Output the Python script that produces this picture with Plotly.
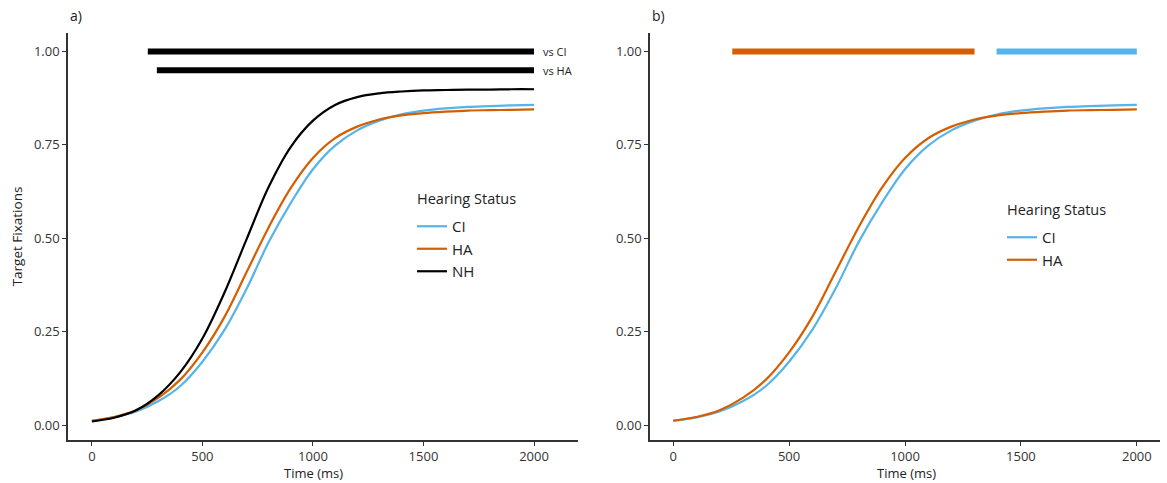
import plotly.graph_objects as go

time_ms = [0, 100, 200, 300, 400, 500, 600, 700, 800, 900, 1000,
           1100, 1200, 1300, 1400, 1500, 1600, 1700, 1800, 1900, 2000]
nh = [0.010, 0.020, 0.040, 0.080, 0.142, 0.232, 0.355, 0.498, 0.638, 0.745, 0.815,
      0.857, 0.878, 0.888, 0.893, 0.896, 0.897, 0.898, 0.898, 0.899, 0.899]
ha = [0.012, 0.022, 0.040, 0.073, 0.122, 0.195, 0.290, 0.410, 0.530, 0.635, 0.715,
      0.768, 0.799, 0.818, 0.829, 0.835, 0.839, 0.842, 0.843, 0.844, 0.845]
ci = [0.012, 0.021, 0.037, 0.064, 0.105, 0.170, 0.255, 0.365, 0.490, 0.595, 0.685,
      0.748, 0.789, 0.815, 0.832, 0.842, 0.848, 0.852, 0.854, 0.856, 0.857]

# significance bars
sig_a_labels = ["vs CI", "vs HA"]
sig_a_start = [253, 294]
sig_a_end = [2000, 2000]
sig_a_y = [1.00, 0.95]
sig_b_start = [255, 1395]
sig_b_end = [1300, 2000]
sig_b_y = [1.00, 1.00]

BLUE = "#56B4E9"
ORANGE = "#D55E00"
BLACK = "#000000"
FONT = "Open Sans"
TXT = "#222"

fig = go.Figure()

# panel a
for name, ys, col in [("CI", ci, BLUE), ("HA", ha, ORANGE), ("NH", nh, BLACK)]:
    fig.add_trace(go.Scatter(x=time_ms, y=ys, mode="lines", name=name,
                             line=dict(color=col, width=2.2, shape="spline", smoothing=1.0),
                             xaxis="x", yaxis="y", legend="legend"))
for s, e, y in zip(sig_a_start, sig_a_end, sig_a_y):
    fig.add_trace(go.Scatter(x=[s, e], y=[y, y], mode="lines", showlegend=False,
                             line=dict(color=BLACK, width=6), xaxis="x", yaxis="y"))
for lab, e, y in zip(sig_a_labels, sig_a_end, sig_a_y):
    fig.add_annotation(x=e, y=y, xref="x", yref="y", text=lab, showarrow=False,
                       xanchor="left", xshift=7, font=dict(family=FONT, size=11, color=TXT))

# panel b
for name, ys, col in [("CI", ci, BLUE), ("HA", ha, ORANGE)]:
    fig.add_trace(go.Scatter(x=time_ms, y=ys, mode="lines", name=name,
                             line=dict(color=col, width=2.2, shape="spline", smoothing=1.0),
                             xaxis="x2", yaxis="y2", legend="legend2"))
for s, e, y, col in zip(sig_b_start, sig_b_end, sig_b_y, [ORANGE, BLUE]):
    fig.add_trace(go.Scatter(x=[s, e], y=[y, y], mode="lines", showlegend=False,
                             line=dict(color=col, width=6), xaxis="x2", yaxis="y2"))

W, H = 1167, 483
ydom = [1 - 440 / H, 1 - 33 / H]
axis_common = dict(showgrid=False, zeroline=False, showline=True, linecolor="#333",
                   linewidth=1.5, ticks="outside", ticklen=4, tickcolor="#333", tickwidth=1.2,
                   tickfont=dict(family=FONT, size=13, color="#333"))
title_font = dict(family=FONT, size=13, color=TXT)
legend_common = dict(xanchor="left", yanchor="top", bgcolor="rgba(0,0,0,0)",
                     font=dict(family=FONT, size=15, color=TXT),
                     itemwidth=30, tracegroupgap=4)

fig.update_layout(
    width=W, height=H, margin=dict(l=0, r=0, t=0, b=0),
    plot_bgcolor="white", paper_bgcolor="white",
    font=dict(family=FONT, color=TXT),
    xaxis=dict(domain=[68 / W, 578 / W], range=[-108, 2199], anchor="y",
               tickvals=[0, 500, 1000, 1500, 2000], **axis_common),
    yaxis=dict(domain=ydom, range=[-0.0395, 1.0495], anchor="x",
               tickvals=[0, 0.25, 0.5, 0.75, 1.0], tickformat=".2f",
               title=dict(text="Target Fixations", font=dict(family=FONT, size=13.5, color=TXT), standoff=8),
               **axis_common),
    xaxis2=dict(domain=[650 / W, 1160 / W], range=[-100, 2100], anchor="y2",
                tickvals=[0, 500, 1000, 1500, 2000], **axis_common),
    yaxis2=dict(domain=ydom, range=[-0.0395, 1.0495], anchor="x2",
                tickvals=[0, 0.25, 0.5, 0.75, 1.0], tickformat=".2f",
                **axis_common),
    legend=dict(x=412 / W, y=1 - 210 / H, **legend_common),
    legend2=dict(x=1002 / W, y=1 - 221 / H, **legend_common),
)

# legend titles
fig.add_annotation(x=415 / W, y=1 - 198 / H, xref="paper", yref="paper", text="Hearing Status",
                   showarrow=False, xanchor="left", yanchor="middle",
                   font=dict(family=FONT, size=14.5, color=TXT))
fig.add_annotation(x=1005 / W, y=1 - 210 / H, xref="paper", yref="paper", text="Hearing Status",
                   showarrow=False, xanchor="left", yanchor="middle",
                   font=dict(family=FONT, size=14.5, color=TXT))
# x-axis titles
fig.add_annotation(x=313 / W, y=1 - 473 / H, xref="paper", yref="paper", text="Time (ms)",
                   showarrow=False, xanchor="center", yanchor="middle", font=title_font,
                   borderpad=0)
fig.add_annotation(x=907 / W, y=1 - 473 / H, xref="paper", yref="paper", text="Time (ms)",
                   showarrow=False, xanchor="center", yanchor="middle", font=title_font,
                   borderpad=0)
# panel tags
fig.add_annotation(x=68 / W, y=1 - 16 / H, xref="paper", yref="paper", text="a)",
                   showarrow=False, xanchor="left", yanchor="middle",
                   font=dict(family=FONT, size=14, color=TXT))
fig.add_annotation(x=650 / W, y=1 - 16 / H, xref="paper", yref="paper", text="b)",
                   showarrow=False, xanchor="left", yanchor="middle",
                   font=dict(family=FONT, size=14, color=TXT))

fig.write_html("out.html")
